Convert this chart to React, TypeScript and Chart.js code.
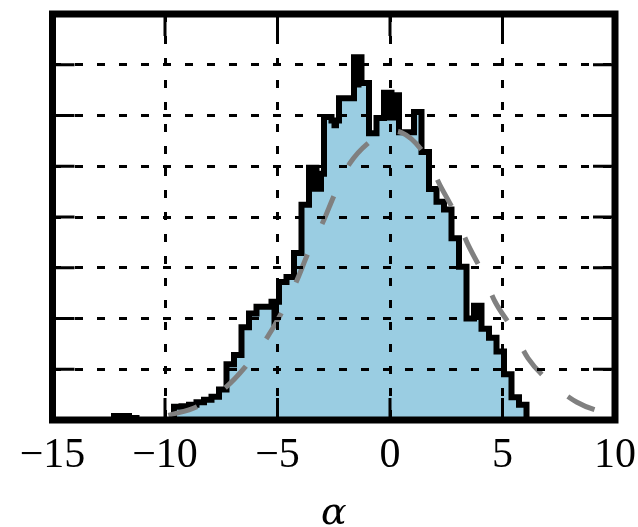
import React, { useEffect, useRef } from "react";
import { Chart, registerables } from "chart.js";

Chart.register(...registerables);

// Histogram bins (left edge of first bin, width of each bin), in alpha units
const binStart = -12.2667;
const binWidth = 1 / 3;

// Black step outline heights (one per bin)
const outlineCounts = [
  0.08, 0.08, 0.04, 0, 0, 0, 0, 0,
  0.26, 0.27, 0.3, 0.35, 0.4, 0.46, 0.6, 1.1,
  1.28, 1.83, 2.1, 2.23, 2.23, 2.33, 2.72, 2.82,
  3.29, 4.24, 4.97, 4.85, 5.97, 5.9, 6.34, 6.34,
  7.15, 6.64, 5.65, 5.95, 6.45, 6.4, 5.67, 5.67,
  6.07, 5.28, 4.55, 4.3, 4.15, 3.58, 3.02, 2.0,
  2.25, 1.8, 1.62, 1.35, 0.9, 0.45, 0.3,
];

// Light-blue filled histogram heights (same bins)
const fillCounts = [
  0.08, 0.08, 0.04, 0, 0, 0, 0, 0,
  0.26, 0.27, 0.3, 0.35, 0.4, 0.46, 0.6, 1.1,
  1.28, 1.83, 2.1, 2.23, 2.23, 1.85, 2.72, 2.82,
  3.29, 4.24, 4.5, 4.5, 5.97, 5.75, 6.34, 6.34,
  6.55, 6.64, 5.65, 5.95, 5.9, 5.9, 5.67, 5.67,
  6.07, 5.28, 4.55, 4.3, 4.15, 3.58, 3.02, 2.0,
  1.97, 1.8, 1.62, 1.35, 0.9, 0.45, 0.3,
];

// Dashed gray model curve
const curveX = [-9.85, -8.58, -7.33, -6.44, -5.47, -4.8, -4.13, -3.64, -2.98, -2.44, -1.78, -0.8, -0.1, 0.53, 1.56, 2.22, 2.89, 3.42, 4.09, 4.67, 5.42, 6.13, 7.11, 8.31, 9.56, 10];
const curveY = [0.09, 0.26, 0.63, 1.04, 1.62, 2.13, 2.76, 3.29, 3.9, 4.47, 5.06, 5.52, 5.7, 5.66, 5.22, 4.63, 4.07, 3.5, 2.92, 2.33, 1.81, 1.22, 0.75, 0.35, 0.14, 0.1];

const xTickValues = [-15, -10, -5, 0, 5, 10];
const xMin = -15;
const xMax = 10;
const yMax = 8;
const axisLabel = "α";

const BLUE = "rgb(154,205,226)";

function histPoints(values: number[]) {
  const pts = [{ x: binStart, y: 0 }];
  values.forEach((v, i) => pts.push({ x: binStart + i * binWidth, y: v }));
  pts.push({ x: binStart + values.length * binWidth, y: 0 });
  return pts;
}

function fmtTick(v: number) {
  return v < 0 ? "\u2212" + Math.abs(v) : String(v);
}

export default function App() {
  const ref = useRef<HTMLCanvasElement>(null);

  useEffect(() => {
    document.body.style.margin = "0";
    const canvas = ref.current!;
    const TICK_LEN = 22;

    const framePlugin = {
      id: "frameAndTicks",
      afterDraw(chart: any) {
        const { ctx, chartArea: a, scales } = chart;
        ctx.save();
        ctx.strokeStyle = "#000";
        ctx.setLineDash([]);
        ctx.lineWidth = 3;
        ctx.beginPath();
        for (const t of scales.x.ticks) {
          const v = t.value;
          if (v <= xMin || v >= xMax) continue;
          const px = scales.x.getPixelForValue(v);
          ctx.moveTo(px, a.bottom);
          ctx.lineTo(px, a.bottom - TICK_LEN);
          ctx.moveTo(px, a.top);
          ctx.lineTo(px, a.top + TICK_LEN);
        }
        for (const t of scales.y.ticks) {
          const v = t.value;
          if (v <= 0 || v >= yMax) continue;
          const py = scales.y.getPixelForValue(v);
          ctx.moveTo(a.left, py);
          ctx.lineTo(a.left + TICK_LEN, py);
          ctx.moveTo(a.right, py);
          ctx.lineTo(a.right - TICK_LEN, py);
        }
        ctx.stroke();
        ctx.lineWidth = 7;
        ctx.strokeRect(a.left, a.top, a.right - a.left, a.bottom - a.top);
        ctx.restore();
      },
    };

    const chart = new Chart(canvas, {
      type: "line",
      data: {
        datasets: [
          {
            label: "model",
            data: curveX.map((x, i) => ({ x, y: curveY[i] })),
            borderColor: "#808080",
            borderWidth: 5,
            borderDash: [30, 34],
            borderCapStyle: "butt",
            pointRadius: 0,
            fill: false,
            cubicInterpolationMode: "monotone",
            order: 0,
          },
          {
            label: "outline",
            data: histPoints(outlineCounts),
            stepped: true,
            borderColor: "#000",
            borderWidth: 6,
            borderJoinStyle: "miter",
            pointRadius: 0,
            fill: false,
            order: 1,
          },
          {
            label: "filled",
            data: histPoints(fillCounts),
            stepped: true,
            borderColor: "rgba(0,0,0,0)",
            borderWidth: 1,
            backgroundColor: BLUE,
            fill: "origin",
            pointRadius: 0,
            order: 2,
          },
          {
            label: "outline area",
            data: histPoints(outlineCounts),
            stepped: true,
            borderColor: "rgba(0,0,0,0)",
            borderWidth: 1,
            backgroundColor: "#000",
            fill: "origin",
            pointRadius: 0,
            order: 3,
          },
        ] as any,
      },
      options: {
        animation: false,
        responsive: false,
        devicePixelRatio: 1,
        layout: { padding: { left: 52.5, right: 23, top: 14, bottom: 0 } },
        plugins: { legend: { display: false }, tooltip: { enabled: false } },
        scales: {
          x: {
            type: "linear",
            min: xMin,
            max: xMax,
            afterBuildTicks: (s: any) => {
              s.ticks = xTickValues.map((v) => ({ value: v }));
            },
            ticks: {
              callback: (v: any) => fmtTick(Number(v)),
              font: { family: "'Liberation Serif', serif", size: 42, lineHeight: 1.72 },
              color: "#000",
              padding: 0,
              maxRotation: 0,
              autoSkip: false,
            },
            grid: { color: "#000", lineWidth: 3, drawTicks: false, z: 1 },
            border: { display: false, dash: [8, 14] },
            title: {
              display: true,
              text: axisLabel,
              color: "#000",
              font: { family: "'DejaVu Serif', serif", size: 38, style: "italic", lineHeight: 0.5 },
              padding: { top: 0, bottom: 3 },
            },
            afterFit: (s: any) => {
              s.height = 107;
            },
          },
          y: {
            type: "linear",
            min: 0,
            max: yMax,
            ticks: { display: false, stepSize: 1 },
            grid: { color: "#000", lineWidth: 3, drawTicks: false, z: 1 },
            border: { display: false, dash: [8, 14] },
          },
        },
      } as any,
      plugins: [framePlugin],
    });
    return () => chart.destroy();
  }, []);

  return (
    <div style={{ width: 638, height: 527 }}>
      <canvas ref={ref} width={638} height={527} style={{ display: "block", width: 638, height: 527 }} />
    </div>
  );
}
